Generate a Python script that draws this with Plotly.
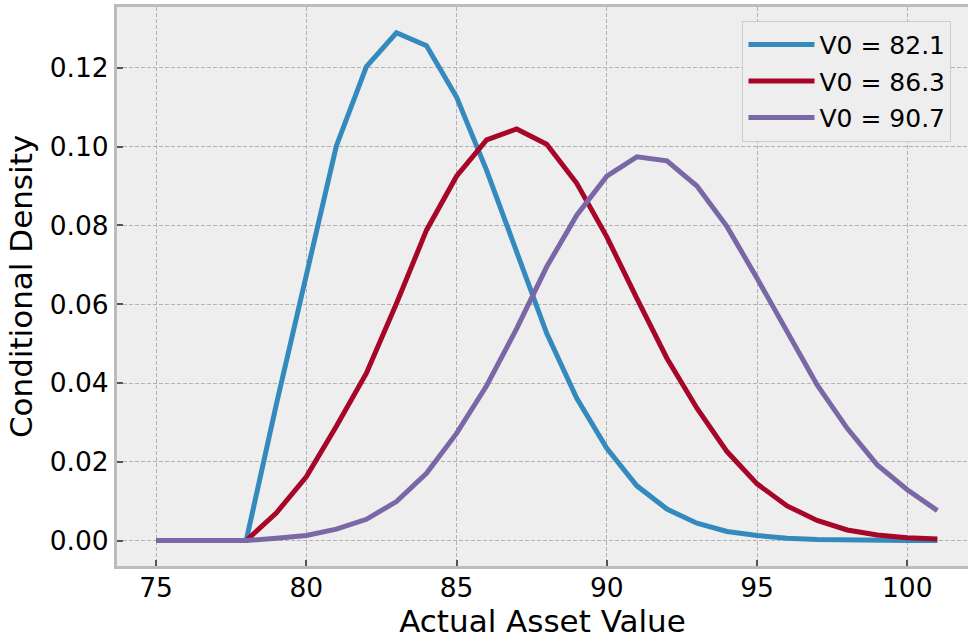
import plotly.graph_objects as go

x_vals = list(range(75, 102))

blue_v821 = [0, 0, 0, 0, 0.0345, 0.068, 0.1002, 0.1203, 0.1289, 0.1256, 0.1126,
             0.0940, 0.0733, 0.0526, 0.0361, 0.0234, 0.0139, 0.0080, 0.0044, 0.0023,
             0.0013, 0.0006, 0.0003, 0.00012, 0.00005, 0.00002, 0.00001]
red_v863 = [0, 0, 0, 0, 0.0070, 0.0162, 0.0290, 0.0425, 0.0602, 0.0788, 0.0925,
            0.1017, 0.1045, 0.1006, 0.0907, 0.0771, 0.0615, 0.0463, 0.0336, 0.0226,
            0.0144, 0.0088, 0.0051, 0.0027, 0.0014, 0.0007, 0.0004]
purple_v907 = [0, 0, 0, 0, 0.0006, 0.0013, 0.0029, 0.0054, 0.0099, 0.0171, 0.0272,
               0.0393, 0.0538, 0.0695, 0.0826, 0.0925, 0.0974, 0.0964, 0.0900, 0.0797,
               0.0666, 0.0530, 0.0395, 0.0285, 0.0192, 0.0129, 0.0076]

series_names = ["V0 = 82.1", "V0 = 86.3", "V0 = 90.7"]
series_colors = ["#348ABD", "#A60628", "#7A68A6"]
x_ticks = [75, 80, 85, 90, 95, 100]
y_ticks = [0.00, 0.02, 0.04, 0.06, 0.08, 0.10, 0.12]

fig = go.Figure()
for i, (name, ys, col) in enumerate(zip(series_names, [blue_v821, red_v863, purple_v907], series_colors)):
    fig.add_trace(go.Scatter(x=x_vals, y=ys, mode="lines", name=name, legendgroup="g%d" % i,
                             line=dict(color=col, width=5)))

font = "DejaVu Sans, Arial, sans-serif"
fig.update_layout(
    width=968, height=641,
    margin=dict(l=117, r=0, t=7, b=75),
    paper_bgcolor="white",
    plot_bgcolor="#eeeeee",
    font=dict(family=font, size=26, color="black"),
    legend=dict(x=0.735, y=0.9755, xanchor="left", yanchor="top",
                bgcolor="#eeeeee", bordercolor="#cccccc", borderwidth=1,
                font=dict(size=25, family=font), itemwidth=66,
                tracegroupgap=1, traceorder="grouped"),
    showlegend=True,
)
fig.update_xaxes(
    range=[73.7, 102.02], tickvals=x_ticks, ticktext=[str(v) for v in x_ticks],
    showgrid=True, gridcolor="#b2b2b2", griddash="4px,2px", gridwidth=1,
    zeroline=False, showline=True, linecolor="#bcbcbc", linewidth=3, mirror=True,
    ticks="inside", ticklen=6, tickwidth=2, tickcolor="#555555",
    automargin=False, ticklabelstandoff=-4,
    title=dict(text="Actual Asset Value", font=dict(size=31, family=font), standoff=2),
    tickfont=dict(size=26.5, family=font),
)
fig.update_yaxes(
    range=[-0.00645, 0.13545], tickvals=y_ticks, ticktext=["%.2f" % v for v in y_ticks],
    showgrid=True, gridcolor="#b2b2b2", griddash="4px,2px", gridwidth=1,
    zeroline=False, showline=True, linecolor="#bcbcbc", linewidth=3, mirror=False,
    ticks="inside", ticklen=6, tickwidth=2, tickcolor="#555555",
    automargin=False,
    title=dict(text="Conditional Density", font=dict(size=31, family=font), standoff=8),
    tickfont=dict(size=26.5, family=font),
)

fig.write_html("out.html", config={"displayModeBar": False},
               post_script="document.body.style.margin='0';document.body.style.overflow='hidden';")
